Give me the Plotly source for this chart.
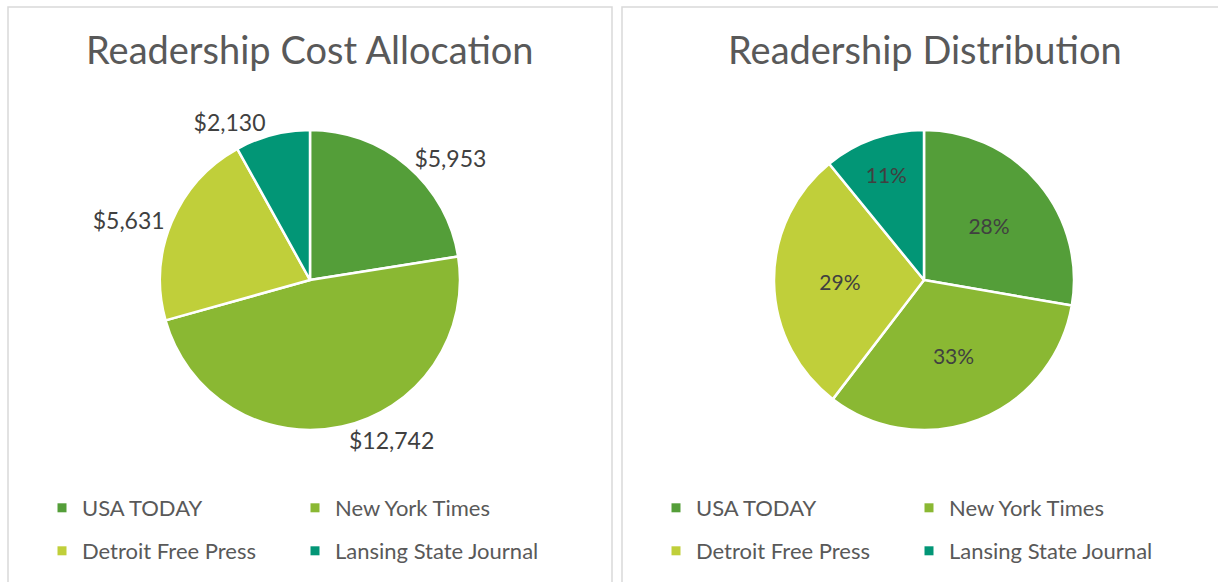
import plotly.graph_objects as go

# ---- data ----
papers = ["USA TODAY", "New York Times", "Detroit Free Press", "Lansing State Journal"]
cost_values = [5953, 12742, 5631, 2130]
share_values = [28, 33, 29, 11]
colors = ["#549E39", "#8AB833", "#C0CF3A", "#029676"]
titles = ["Readership Cost Allocation", "Readership Distribution"]

W, H = 1218, 582
TXT = "#595959"
LBL = "#404040"
FONT = "Lato"

def px(x):
    return x / W

def py(y):
    return 1 - y / H

fig = go.Figure()

fig.add_trace(go.Pie(
    labels=papers, values=cost_values, sort=False, direction="clockwise", rotation=0,
    marker=dict(colors=colors, line=dict(color="white", width=2.5)),
    texttemplate="$%{value:,.0f}", textposition="outside",
    outsidetextfont=dict(family=FONT, size=23, color=LBL),
    domain=dict(x=[px(160), px(460)], y=[py(430), py(130)]),
    showlegend=False, hoverinfo="label+value",
))

fig.add_trace(go.Pie(
    labels=papers, values=share_values, sort=False, direction="clockwise", rotation=0,
    marker=dict(colors=colors, line=dict(color="white", width=2.5)),
    texttemplate="%{percent:.0%}", textposition="inside", insidetextorientation="horizontal",
    insidetextfont=dict(family=FONT, size=21, color=LBL),
    domain=dict(x=[px(774), px(1074)], y=[py(430), py(130)]),
    showlegend=False, hoverinfo="label+percent",
))

# legend entries (two rows per panel)
legend_names = ["legend", "legend2", "legend3", "legend4"]
for panel in range(2):
    for row in range(2):
        lg = legend_names[panel * 2 + row]
        for col in range(2):
            k = row * 2 + col
            fig.add_trace(go.Scatter(
                x=[None], y=[None], mode="markers", name=papers[k],
                marker=dict(symbol="square", size=9, color=colors[k]),
                legend=lg, showlegend=True, hoverinfo="skip",
            ))

leg_common = dict(orientation="h", xanchor="left", yanchor="middle",
                  font=dict(family=FONT, size=22, color=TXT),
                  bgcolor="rgba(0,0,0,0)", entrywidth=208, entrywidthmode="pixels",
                  itemclick=False, itemdoubleclick=False)
row_y = [508, 551]
panel_x = [42, 656]
layout_legends = {}
for panel in range(2):
    for row in range(2):
        lg = legend_names[panel * 2 + row]
        layout_legends[lg] = dict(leg_common, x=px(panel_x[panel]), y=py(row_y[row]))

annotations = [
    dict(text=titles[0], x=px(310), y=py(49), xref="paper", yref="paper",
         showarrow=False, xanchor="center", yanchor="middle",
         font=dict(family=FONT, size=38, color=TXT)),
    dict(text=titles[1], x=px(925), y=py(49), xref="paper", yref="paper",
         showarrow=False, xanchor="center", yanchor="middle",
         font=dict(family=FONT, size=38, color=TXT)),
]

shapes = [
    dict(type="rect", xref="paper", yref="paper", x0=px(8), x1=px(612), y0=-0.1, y1=py(7),
         line=dict(color="#D9D9D9", width=1.5), fillcolor="rgba(0,0,0,0)", layer="below"),
    dict(type="rect", xref="paper", yref="paper", x0=px(622), x1=1.1, y0=-0.1, y1=py(7),
         line=dict(color="#D9D9D9", width=1.5), fillcolor="rgba(0,0,0,0)", layer="below"),
]

fig.update_layout(
    width=W, height=H, margin=dict(l=0, r=0, t=0, b=0),
    paper_bgcolor="white", plot_bgcolor="white",
    xaxis=dict(visible=False), yaxis=dict(visible=False),
    annotations=annotations, shapes=shapes,
    **layout_legends,
)

fig.write_html(
    "out.html",
    config={"displayModeBar": False},
    post_script="document.body.style.margin='0';document.body.style.overflow='hidden';",
)
